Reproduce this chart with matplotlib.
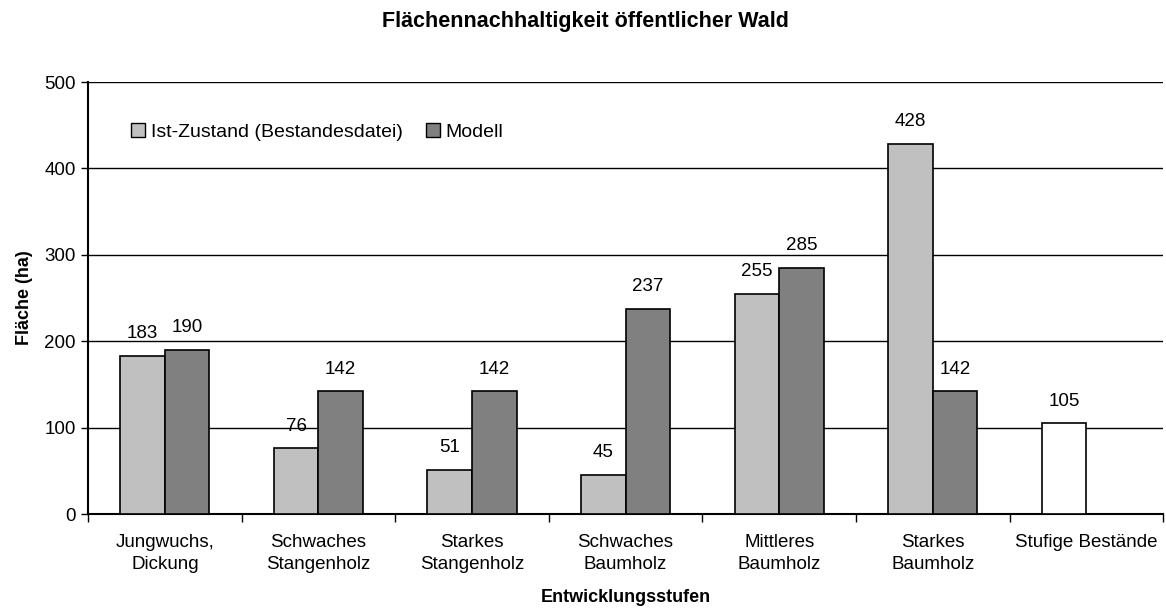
import numpy as np
import matplotlib.pyplot as plt
from matplotlib.patches import Patch

plt.rcParams['font.family'] = ['Liberation Sans', 'DejaVu Sans']

categories = ["Jungwuchs,\nDickung", "Schwaches\nStangenholz", "Starkes\nStangenholz",
              "Schwaches\nBaumholz", "Mittleres\nBaumholz", "Starkes\nBaumholz",
              "Stufige Bestände"]
ist = [183, 76, 51, 45, 255, 428, 105]
modell = [190, 142, 142, 237, 285, 142, None]

fig = plt.figure(figsize=(11.66, 6.12), dpi=100)
ax = fig.add_axes([0.0755, 0.160, 0.922, 0.706])

x = np.arange(len(categories))
w = 0.29
ist_colors = ["#c0c0c0"] * 6 + ["#ffffff"]
for i, v in enumerate(ist):
    ax.bar(x[i] - w / 2, v, w, color=ist_colors[i], edgecolor="black", linewidth=1.2, zorder=3)
    ax.text(x[i] - w / 2, v + 16, str(v), ha="center", va="bottom", fontsize=13.5, zorder=4)
for i, v in enumerate(modell):
    if v is None:
        continue
    ax.bar(x[i] + w / 2, v, w, color="#808080", edgecolor="black", linewidth=1.2, zorder=3)
    ax.text(x[i] + w / 2, v + 16, str(v), ha="center", va="bottom", fontsize=13.5, zorder=4)

ax.set_xlim(-0.5, len(categories) - 0.5)
ax.set_ylim(0, 500)
ax.set_yticks(range(0, 501, 100))
ax.tick_params(axis="y", labelsize=13.5, length=5, width=1, pad=4)
for y in range(100, 501, 100):
    ax.axhline(y, color="black", linewidth=1, zorder=1)

ax.set_xticks(x)
ax.set_xticklabels(categories, fontsize=13.5, linespacing=1.4)
ax.tick_params(axis="x", length=0, pad=14)
ax.set_xticks(np.arange(-0.5, len(categories), 1), minor=True)
ax.tick_params(axis="x", which="minor", length=6, width=1)

for s in ["top", "right"]:
    ax.spines[s].set_visible(False)
ax.spines["left"].set_linewidth(1.5)
ax.spines["bottom"].set_linewidth(1.5)

ax.set_ylabel("Fläche (ha)", fontsize=13, fontweight="bold", labelpad=8)
ax.set_xlabel("Entwicklungsstufen", fontsize=13, fontweight="bold", labelpad=12)
fig.text(0.502, 0.965, "Flächennachhaltigkeit öffentlicher Wald", fontsize=15.5,
         fontweight="bold", ha="center", va="center")

handles = [Patch(facecolor="#c0c0c0", edgecolor="black", label="Ist-Zustand (Bestandesdatei)"),
           Patch(facecolor="#808080", edgecolor="black", label="Modell")]
ax.legend(handles=handles, loc="upper left", bbox_to_anchor=(0.024, 0.945), ncol=2, frameon=False,
          fontsize=14, handlelength=0.7, handleheight=0.7, handletextpad=0.3, columnspacing=1.2)

fig.savefig("out.png", dpi=100)
